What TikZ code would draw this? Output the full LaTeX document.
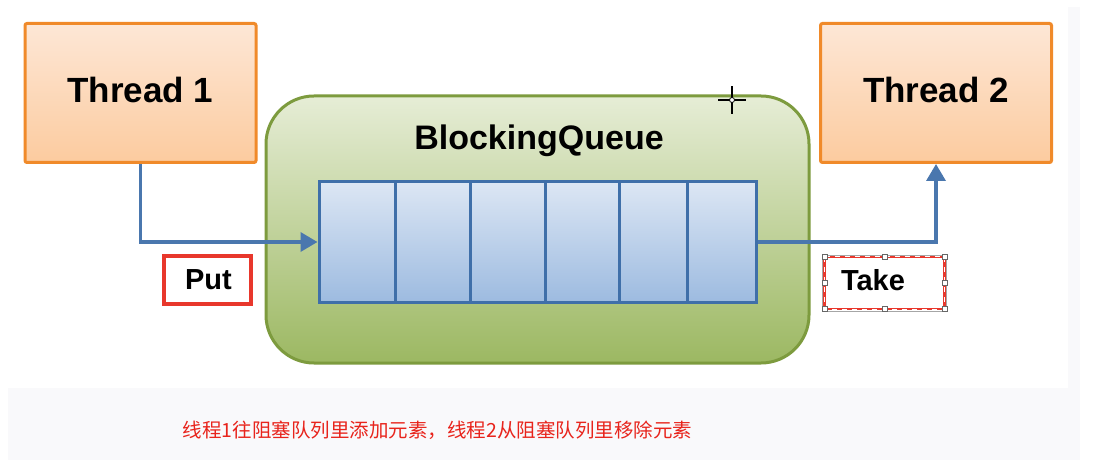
\documentclass[tikz,border=0pt]{standalone}
\usepackage{fontspec}
\setmainfont{Liberation Sans}
\newfontfamily\cjk{Noto Sans CJK SC}
\usetikzlibrary{arrows.meta,positioning,calc}
\definecolor{orgborder}{HTML}{F08A2A}
\definecolor{orgtop}{HTML}{FDE7D6}
\definecolor{orgbot}{HTML}{FCCB9F}
\definecolor{grnborder}{HTML}{7D9B3E}
\definecolor{grntop}{HTML}{E6EDD6}
\definecolor{grnbot}{HTML}{9CB862}
\definecolor{qborder}{HTML}{3F6FA9}
\definecolor{qtop}{HTML}{DCE6F4}
\definecolor{qbot}{HTML}{9DBBE0}
\definecolor{arrowblue}{HTML}{4A77AE}
\definecolor{capred}{HTML}{E8241C}
\definecolor{boxred}{HTML}{E8372C}
\definecolor{bandgrey}{HTML}{F9F9FB}
\tikzset{
  thread/.style={draw=orgborder, line width=3pt, rounded corners=2pt, top color=orgtop, bottom color=orgbot, minimum width=231pt, minimum height=139pt, inner sep=0pt},
  threadtext/.style={font=\fontsize{35}{40}\selectfont\bfseries, inner sep=0pt},
  cell/.style={draw=qborder, line width=3pt, top color=qtop, bottom color=qbot, minimum height=120pt, inner sep=0pt},
  flow/.style={draw=arrowblue, line width=3.5pt, -{Triangle[length=17pt,width=19pt]}},
  lbl/.style={font=\fontsize{29}{34}\selectfont\bfseries, inner sep=0pt}
}
\begin{document}
\begin{tikzpicture}[x=1pt,y=-1pt]
\useasboundingbox (0,0) rectangle (1099,470);
\fill[white] (0,0) rectangle (1099,470);
% faint background bands
\fill[bandgrey] (8,388) rectangle (1080,460);
\fill[bandgrey] (1068,7) rectangle (1080,388);
% threads
\node[thread] (t1) at (140.5,93) {};
\node[threadtext] (t1t) at (140.5,90) {Thread 1};
\node[thread] (t2) at (936,93) {};
\node[threadtext] (t2t) at (936,90) {Thread 2};
% blocking queue container
\node[draw=grnborder, line width=3pt, rounded corners=48pt, top color=grntop, bottom color=grnbot, minimum width=543pt, minimum height=267pt, inner sep=0pt] (bq) at (537.5,229.5) {};
\node[font=\fontsize{34}{40}\selectfont\bfseries] (bqt) at (539,141) {BlockingQueue};
% queue cells
\node[cell, minimum width=76pt] (c1) at (357,242) {};
\node[cell, minimum width=75pt] (c2) at (432.5,242) {};
\node[cell, minimum width=75pt] (c3) at (507.5,242) {};
\node[cell, minimum width=74pt] (c4) at (582,242) {};
\node[cell, minimum width=68pt] (c5) at (653,242) {};
\node[cell, minimum width=69pt] (c6) at (721.5,242) {};
% arrows
\coordinate (p1) at (t1.south |- c1.west);
\coordinate (p2) at (t2.south |- c6.east);
\draw[flow] (t1.south) -- (p1) -- (c1.west);
\draw[flow] (c6.east) -- (p2) -- (t2.south);
% labels
\node[draw=boxred, line width=4pt, minimum width=87pt, minimum height=48pt, inner sep=0pt] (put) at (207.5,280) {};
\node[lbl] (putt) at (208.5,280) {Put};
\node[minimum width=120pt, minimum height=52pt, inner sep=0pt] (take) at (884.5,283) {};
\node[lbl] (taket) at (873,280) {Take};
\draw[boxred, line width=2.5pt] (take.north west) rectangle (take.south east);
\draw[white, line width=1pt, dash pattern=on 5pt off 5pt] (take.north west) rectangle (take.south east);
\draw[gray!70, line width=0.6pt] ([shift={(-2,-2)}]take.north west) rectangle ([shift={(2,2)}]take.south east);
\foreach \a in {north west,north,north east,east,south east,south,south west,west}
  \draw[gray!80!black, fill=white, line width=0.6pt] ([shift={(-2.5,-2.5)}]take.\a) rectangle ([shift={(2.5,2.5)}]take.\a);
% cursor
\coordinate (cur) at (732,100);
\draw[black, line width=1.2pt] ([xshift=-14pt]cur) -- ([xshift=14pt]cur) ([yshift=-14pt]cur) -- ([yshift=14pt]cur);
\draw[black, fill=white, line width=0.8pt] (cur) circle (2.5pt);
% caption
\node[text=capred, font=\cjk\fontsize{19.5}{24}\selectfont, inner sep=0pt] (cap) at (437.5,430) {线程1往阻塞队列里添加元素，线程2从阻塞队列里移除元素};
\end{tikzpicture}
\end{document}
